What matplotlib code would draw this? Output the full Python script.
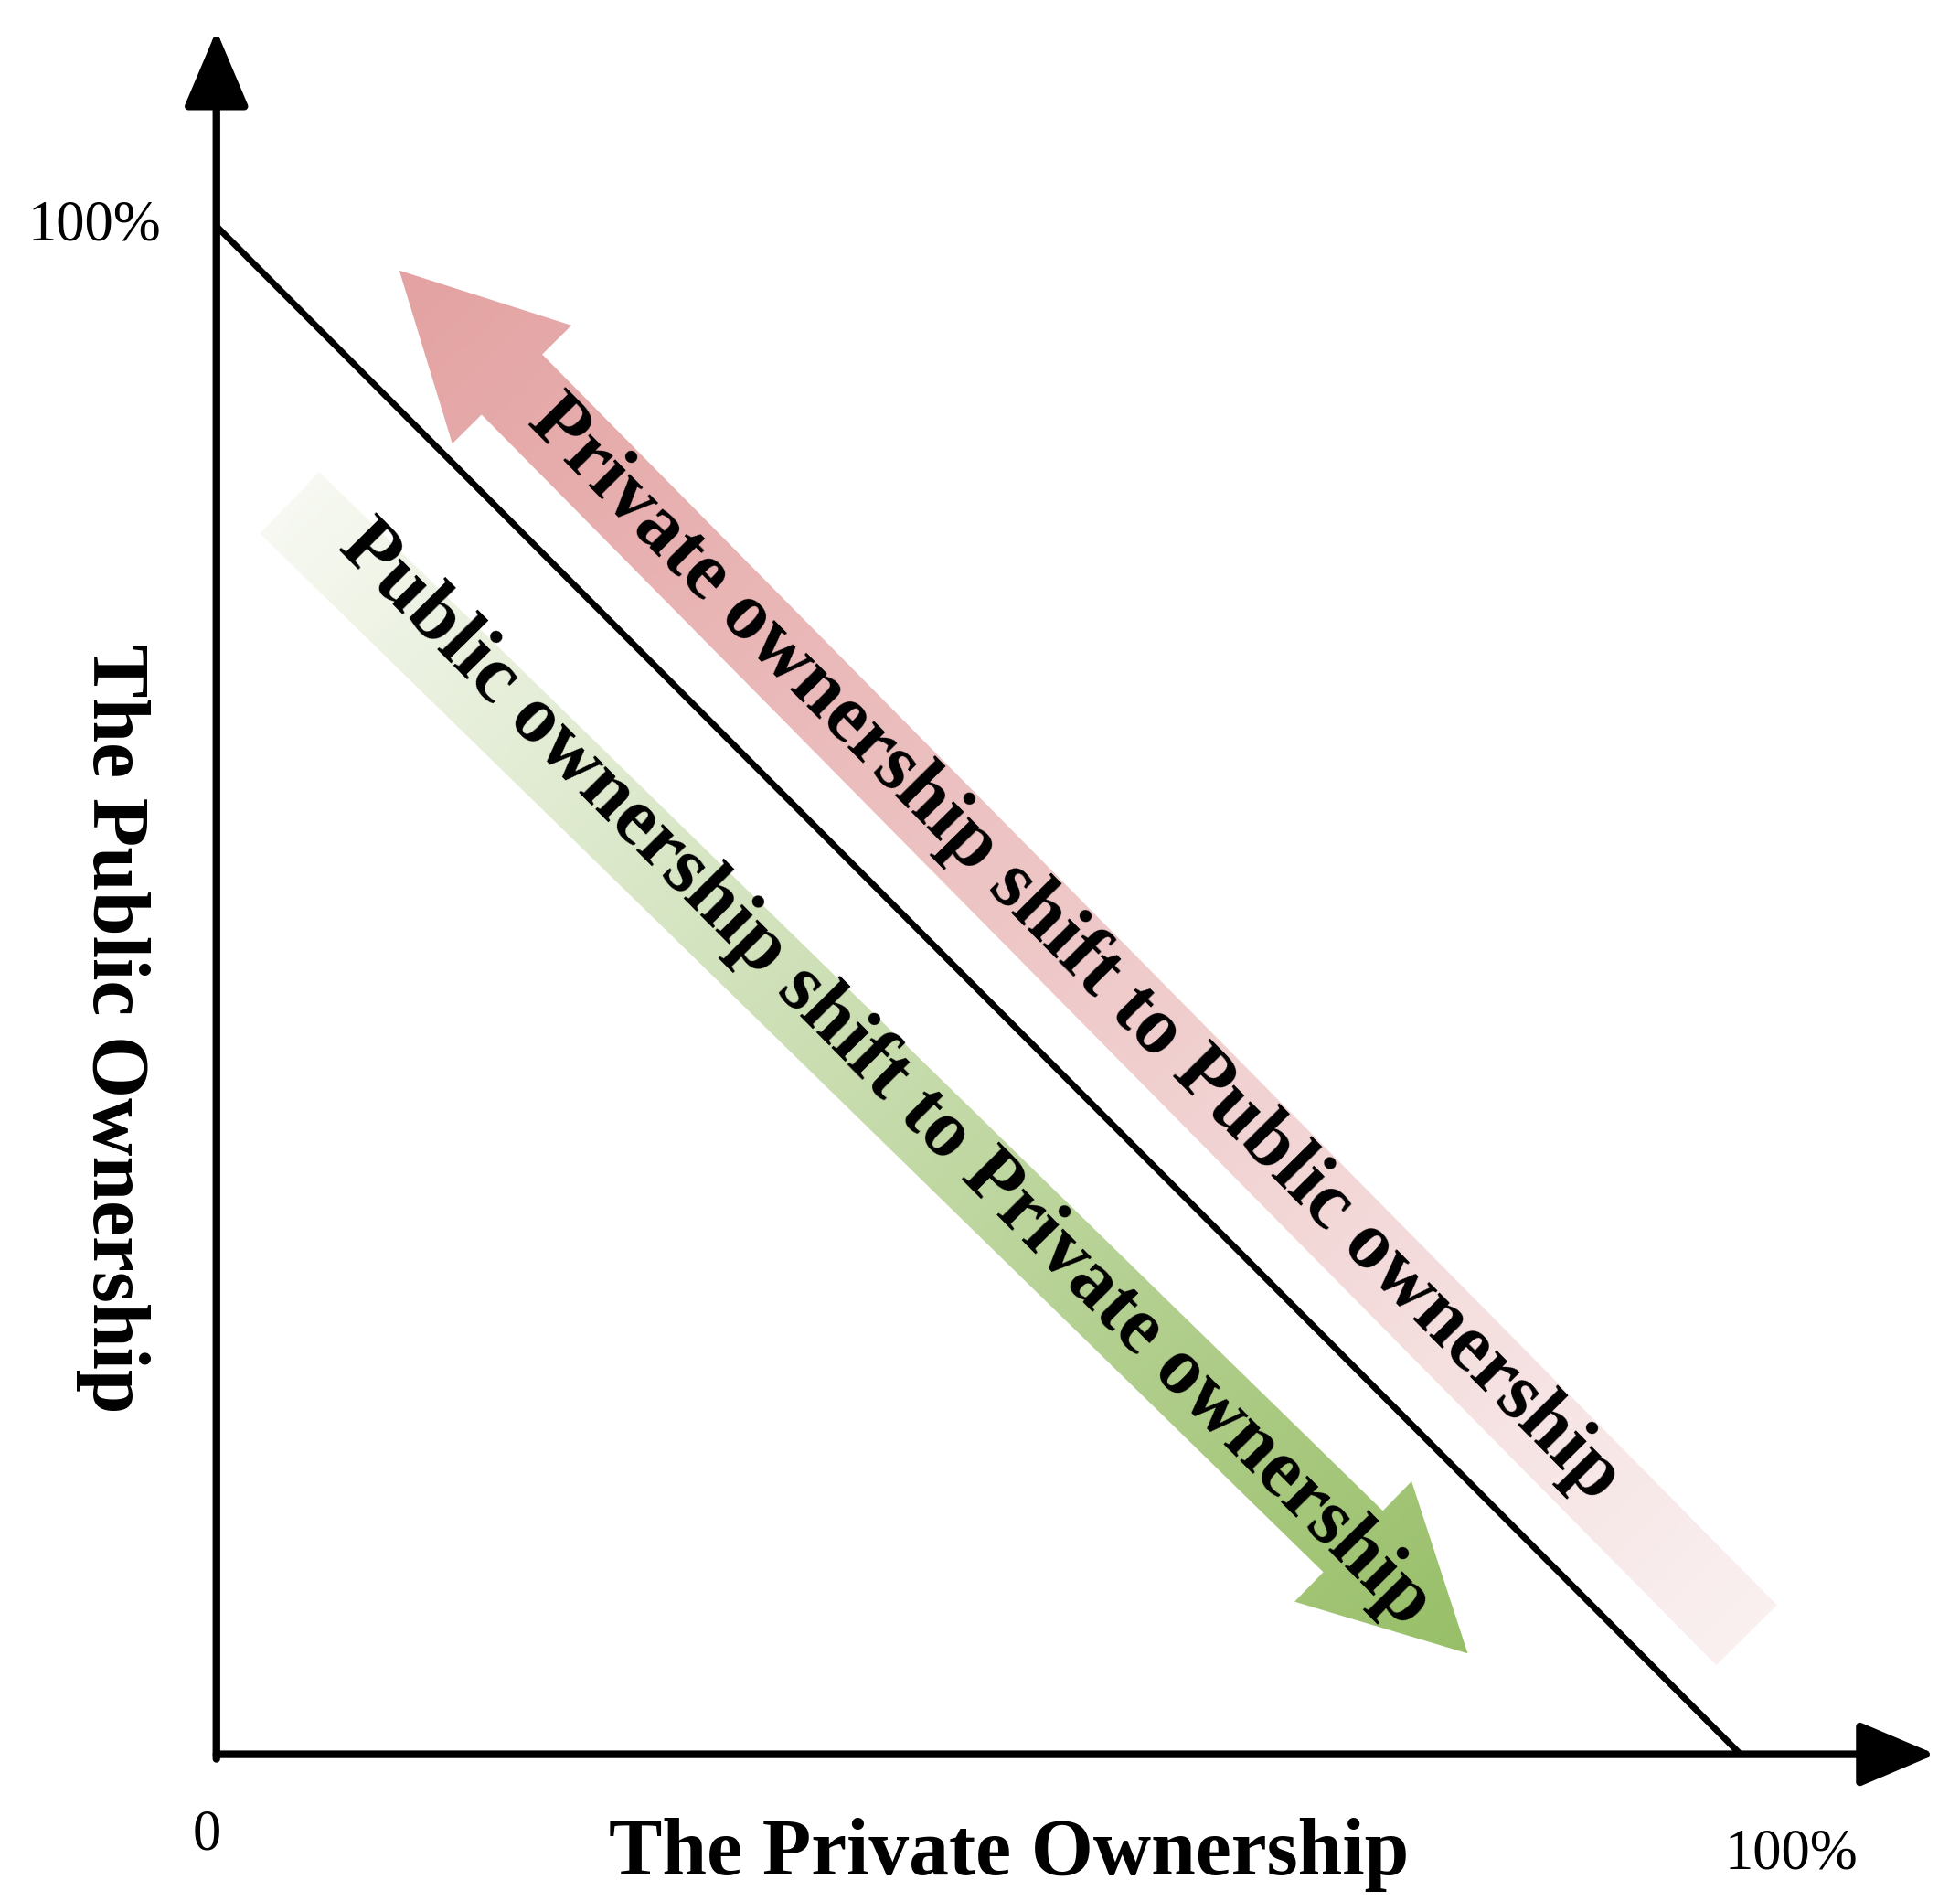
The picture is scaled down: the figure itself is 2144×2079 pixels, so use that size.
import numpy as np
import matplotlib
matplotlib.use("Agg")
import matplotlib.pyplot as plt
from matplotlib.patches import Polygon
from matplotlib.colors import to_rgb

# data
line_x = [0, 100]
line_y = [100, 0]
x_label = "The Private Ownership"
y_label = "The Public Ownership"
red_text = "Private ownership shift to Public ownership"
green_text = "Public ownership shift to Private ownership"

fig = plt.figure(figsize=(21.44, 20.79), dpi=100)
ax = fig.add_axes([0, 0, 1, 1])
ax.set_xlim(-14.2, 114.4)
ax.set_ylim(-9.6, 114.8)
ax.axis("off")
serif = ["Liberation Serif", "DejaVu Serif"]

# axes with arrowheads
ax.annotate("", xy=(112.8, 0), xytext=(0, 0),
            arrowprops=dict(arrowstyle="-|>,head_length=1.3,head_width=0.55", lw=6, color="black", shrinkA=0, shrinkB=0,
                            mutation_scale=40))
ax.annotate("", xy=(0, 112.8), xytext=(0, -0.3),
            arrowprops=dict(arrowstyle="-|>,head_length=1.3,head_width=0.55", lw=6, color="black", shrinkA=0, shrinkB=0,
                            mutation_scale=40))
ax.plot(line_x, line_y, color="black", lw=5, solid_capstyle="butt")


def grad_arrow(tail, tip, c_tail, c_head, hw=2.8, headw=5.5, headl=10.5):
    tail = np.array(tail); tip = np.array(tip)
    d = tip - tail
    L = np.linalg.norm(d)
    u = d / L
    n = np.array([-u[1], u[0]])
    base = tip - u * headl
    pts = [tail + n * hw, base + n * hw, base + n * headw, tip,
           base - n * headw, base - n * hw, tail - n * hw]
    poly = Polygon(pts, closed=True, facecolor="none", edgecolor="none")
    ax.add_patch(poly)
    xs = [p[0] for p in pts]; ys = [p[1] for p in pts]
    x0, x1, y0, y1 = min(xs), max(xs), min(ys), max(ys)
    N = 400
    gx, gy = np.meshgrid(np.linspace(x0, x1, N), np.linspace(y0, y1, N))
    t = ((gx - tail[0]) * u[0] + (gy - tail[1]) * u[1]) / L
    t = np.clip(t, 0, 1)[..., None]
    c0 = np.array(to_rgb(c_tail)); c1 = np.array(to_rgb(c_head))
    img = c0 * (1 - t) + c1 * t
    im = ax.imshow(img, extent=[x0, x1, y0, y1], origin="lower", aspect="auto", zorder=1)
    im.set_clip_path(poly)


grad_arrow((100.4, 7.8), (12.0, 97.1), "#faf0f0", "#e4a2a2")
grad_arrow((4.8, 81.9), (82.1, 6.6), "#f7f9f2", "#98bf68")
ax.set_xlim(-14.2, 114.4)
ax.set_ylim(-9.6, 114.8)

ax.text(56.3, 52.7, red_text, rotation=-45.3, ha="center", va="center",
        fontsize=64, fontweight="bold", family=serif, zorder=3)
ax.text(43.9, 44.5, green_text, rotation=-45.3, ha="center", va="center",
        fontsize=64, fontweight="bold", family=serif, zorder=3)

ax.text(52, -6.6, x_label, ha="center", va="center", fontsize=63, fontweight="bold", family=serif)
ax.text(-6.8, 47.5, y_label, rotation=-90, ha="center", va="center", fontsize=63, fontweight="bold", family=serif)
ax.text(-8.0, 100, "100%", ha="center", va="center", fontsize=45, family=serif)
ax.text(-0.6, -5.3, "0", ha="center", va="center", fontsize=45, family=serif)
ax.text(103.3, -6.6, "100%", ha="center", va="center", fontsize=45, family=serif)

fig.savefig("out.png", dpi=100, facecolor="white")
